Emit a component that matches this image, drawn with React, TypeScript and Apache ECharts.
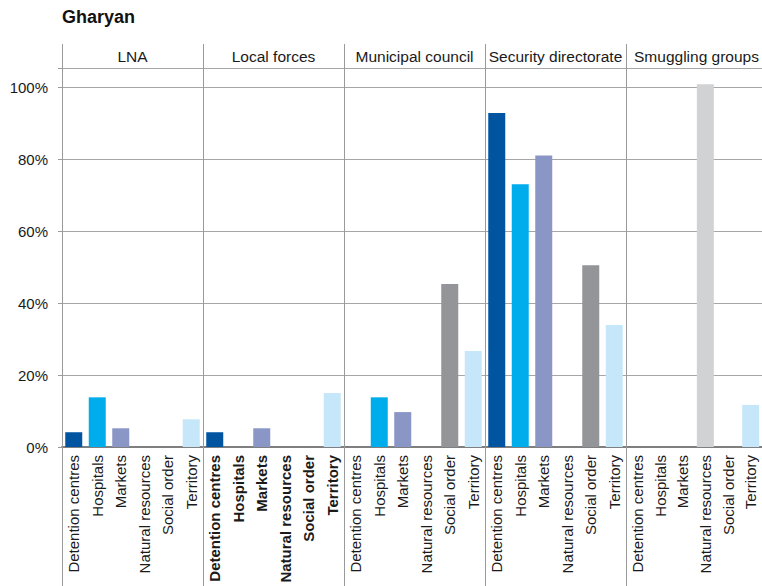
import React, { useEffect, useRef } from "react";
import * as echarts from "echarts";

const title = "Gharyan";
const panels = ["LNA", "Local forces", "Municipal council", "Security directorate", "Smuggling groups"];
const categories = ["Detention centres", "Hospitals", "Markets", "Natural resources", "Social order", "Territory"];
const colors = ["#0054a0", "#00adec", "#8a96c6", "#d1d2d4", "#939598", "#c6e7f9"];
const lnaValues = [4.1, 13.8, 5.2, 0, 0, 7.7];
const localForcesValues = [4.1, 0, 5.2, 0, 0, 15.0];
const municipalValues = [0, 13.8, 9.7, 0, 45.3, 26.7];
const securityValues = [92.8, 73.0, 81.0, 0, 50.5, 33.9];
const smugglingValues = [0, 0, 0, 100.8, 0, 11.7];
const panelValues = [lnaValues, localForcesValues, municipalValues, securityValues, smugglingValues];
const yTicks = [0, 20, 40, 60, 80, 100];
const boldPanel = 1;

export default function App() {
  const ref = useRef<HTMLDivElement>(null);
  useEffect(() => {
    if (!ref.current) return;
    const chart = echarts.init(ref.current, null, { renderer: "svg" });
    const left0 = 62;
    const pw = 141;
    const top = 68;
    const bottom = 139;
    const font = "'Liberation Sans', Arial, sans-serif";
    const grids: any[] = [];
    const xAxes: any[] = [];
    const yAxes: any[] = [];
    const series: any[] = [];
    const graphics: any[] = [];
    panels.forEach((p, i) => {
      const left = left0 + i * pw;
      grids.push({ left, top, width: pw, bottom });
      xAxes.push({
        type: "category",
        gridIndex: i,
        data: categories,
        axisLine: { show: true, lineStyle: { color: "#7f7f7f", width: 2 } },
        axisTick: { show: false },
        axisLabel: {
          rotate: 90,
          interval: 0,
          margin: 8,
          fontSize: 15,
          color: "#1a1a1a",
          fontFamily: font,
          fontWeight: i === boldPanel ? "bold" : "normal",
        },
      });
      yAxes.push({
        type: "value",
        gridIndex: i,
        min: 0,
        max: 105.3,
        interval: 20,
        axisLine: { show: i === 0, lineStyle: { color: "#9a9a9a", width: 1 } },
        axisTick: { show: i === 0, inside: false, length: 4, lineStyle: { color: "#9a9a9a" } },
        axisLabel: {
          show: i === 0,
          customValues: yTicks,
          formatter: (v: number) => v + "%",
          fontSize: 15,
          color: "#1a1a1a",
          fontFamily: font,
          margin: 14,
        },
        splitLine: { show: true, lineStyle: { color: "#a6a6a6", width: 1 } },
      });
      series.push({
        type: "bar",
        xAxisIndex: i,
        yAxisIndex: i,
        data: panelValues[i],
        barWidth: 17,
        itemStyle: { color: (d: any) => colors[d.dataIndex] },
      });
      graphics.push({
        type: "line",
        shape: { x1: left + 0.5, y1: 44, x2: left + 0.5, y2: 586 },
        style: { stroke: "#9a9a9a", lineWidth: 1 },
        z: 10,
      });
      graphics.push({
        type: "text",
        x: left + pw / 2,
        y: 56,
        style: {
          text: p,
          fill: "#1a1a1a",
          font: `15.5px ${font}`,
          textAlign: "center",
          textVerticalAlign: "middle",
        },
      });
    });
    graphics.push({
      type: "line",
      shape: { x1: left0, y1: top + 0.5, x2: 762, y2: top + 0.5 },
      style: { stroke: "#a6a6a6", lineWidth: 1 },
    });
    graphics.push({
      type: "text",
      x: 62,
      y: 17,
      style: {
        text: title,
        fill: "#111",
        font: `bold 18px ${font}`,
        textAlign: "left",
        textVerticalAlign: "middle",
      },
    });
    chart.setOption({
      animation: false,
      grid: grids,
      xAxis: xAxes,
      yAxis: yAxes,
      series,
      graphic: graphics,
    });
    return () => chart.dispose();
  }, []);
  return (
    <div
      ref={ref}
      style={{ position: "absolute", left: 0, top: 0, width: 762, height: 586, background: "#fff" }}
    />
  );
}
